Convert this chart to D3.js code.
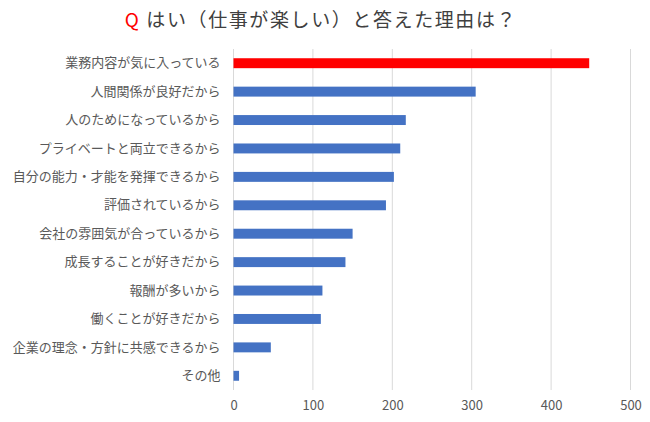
<!DOCTYPE html>
<html><head><meta charset="utf-8">
<script src="https://cdn.jsdelivr.net/npm/d3@7"></script>
<style>
html,body{margin:0;padding:0;background:#fff;}
svg{display:block;font-family:"Noto Sans CJK JP","Noto Sans",sans-serif;}
</style></head>
<body>
<svg id="chart" width="650" height="422"></svg>
<script>
const categories = ["業務内容が気に入っている","人間関係が良好だから","人のためになっているから","プライベートと両立できるから","自分の能力・才能を発揮できるから","評価されているから","会社の雰囲気が合っているから","成長することが好きだから","報酬が多いから","働くことが好きだから","企業の理念・方針に共感できるから","その他"];
const values = [448, 305, 217, 210, 202, 192, 150, 141, 112, 110, 47, 7];
const highlight = [true, false, false, false, false, false, false, false, false, false, false, false];
const tickValues = [0, 100, 200, 300, 400, 500];
const titleQ = "Q";
const titleText = "はい（仕事が楽しい）と答えた理由は？";

const svg = d3.select("#chart");
const m = {left: 233.5, right: 19.5, top: 49, bottom: 32};
const W = 650, H = 422;
const x = d3.scaleLinear().domain([0, 500]).range([m.left, W - m.right]);
const y = d3.scaleBand().domain(categories).range([m.top, H - m.bottom]).paddingInner(0.65).paddingOuter(0.325);

// gridlines
svg.append("g").selectAll("line").data(tickValues).join("line")
  .attr("x1", d => x(d)).attr("x2", d => x(d))
  .attr("y1", m.top).attr("y2", H - m.bottom)
  .attr("stroke", "#d9d9d9").attr("stroke-width", 1);

// bars
svg.append("g").selectAll("rect").data(values).join("rect")
  .attr("x", x(0))
  .attr("y", (d, i) => y(categories[i]))
  .attr("width", d => x(d) - x(0))
  .attr("height", y.bandwidth())
  .attr("fill", (d, i) => highlight[i] ? "#ff0000" : "#4472c4");

// y axis labels
const ya = d3.axisLeft(y).tickSize(0).tickPadding(13);
const yg = svg.append("g").attr("transform", `translate(${m.left},0)`).call(ya);
yg.select(".domain").remove();
yg.selectAll("text").attr("fill", "#595959").style("font-size", "13px").style("font-family", '"Noto Sans CJK JP",sans-serif');

// x axis
const xa = d3.axisBottom(x).tickValues(tickValues).tickSize(0).tickPadding(11);
const xg = svg.append("g").attr("transform", `translate(0,${H - m.bottom})`).call(xa);
xg.select(".domain").remove();
xg.selectAll("text").attr("fill", "#595959").style("font-size", "13px").style("font-family", '"Noto Sans CJK JP",sans-serif');

// title
const t = svg.append("text").attr("x", 321).attr("y", 27).attr("text-anchor", "middle")
  .style("font-size", "19px").style("letter-spacing", "1.6px").attr("fill", "#404040");
t.append("tspan").attr("fill", "#ff0000").text(titleQ);
t.append("tspan").text(" " + titleText);
</script>
</body></html>
